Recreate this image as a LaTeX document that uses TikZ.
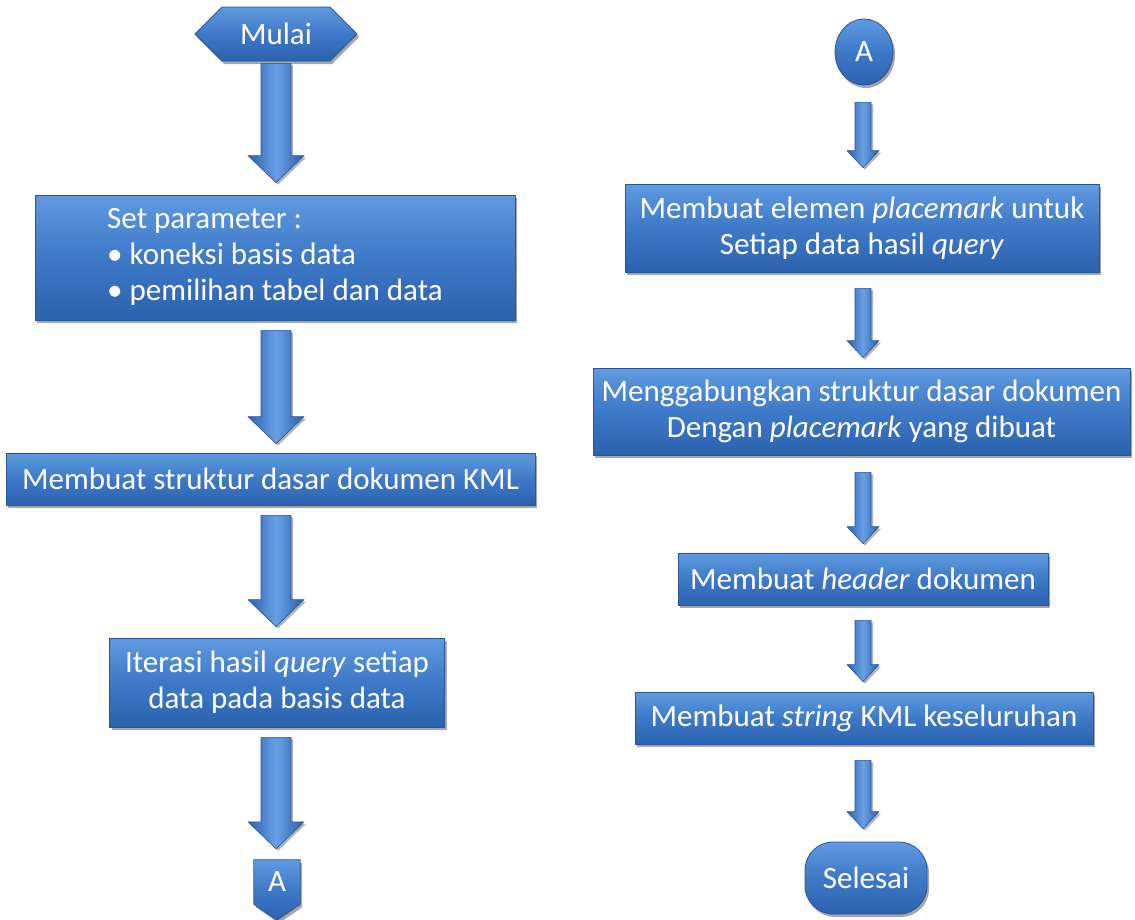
\documentclass[tikz,border=0pt]{standalone}
\usepackage{fontspec}
\setmainfont{Carlito}
\usetikzlibrary{shapes.symbols,shapes.geometric,shadows,calc}

\definecolor{bxtop}{RGB}{96,154,224}
\definecolor{bxmid}{RGB}{62,121,200}
\definecolor{bxbot}{RGB}{44,98,174}
\definecolor{bxline}{RGB}{40,86,152}
\definecolor{arL}{RGB}{46,98,178}
\definecolor{arM}{RGB}{104,160,228}
\definecolor{arR}{RGB}{44,94,170}

\pgfdeclarelayer{bg}
\pgfsetlayers{bg,main}

\tikzset{
  boxfill/.style={draw=bxline, line width=0.8pt, top color=bxtop, bottom color=bxbot,
    middle color=bxmid,
    drop shadow={shadow xshift=2pt, shadow yshift=-3pt, opacity=0.35, fill=black}},
  boxtext/.style={text=white, font=\fontsize{31}{36}\selectfont,
    inner sep=0pt, align=center},
  box/.style={boxfill, boxtext},
  arrowfill/.style={left color=arL, right color=arR, middle color=arM,
    draw=bxline, line width=0.6pt, line join=round,
    drop shadow={shadow xshift=2pt, shadow yshift=-2pt, opacity=0.3, fill=black}},
}

% #1 column coordinate, #2 from node, #3 to node, #4 top gap, #5 bottom gap,
% #6 shaft half width, #7 head half width, #8 head length
\newcommand\blkarrow[8]{%
  \path[arrowfill] let \p1=(#1 |- #2.south), \p2=(#1 |- #3.north) in
    (\x1-#6,\y1-#4) -- (\x1+#6,\y1-#4) -- (\x1+#6,\y2+#5+#8) -- (\x1+#7,\y2+#5+#8)
    -- (\x1,\y2+#5) -- (\x1-#7,\y2+#5+#8) -- (\x1-#6,\y2+#5+#8) -- cycle;}

\begin{document}
\begin{tikzpicture}[x=1pt,y=1pt]
\useasboundingbox (0,0) rectangle (1135,-919);
\coordinate (colL) at (276,0);
\coordinate (colR) at (863,0);

% left column
\node[box, signal, signal to=west and east, signal pointer angle=90,
      minimum width=162pt, minimum height=54pt] (mulai) at (276,-34) {Mulai};
\node[box, minimum width=480pt, minimum height=125pt] (set) at (275,-257.5)
  {\begin{tabular}{@{}l@{}}Set parameter :\\ • koneksi basis data\\ • pemilihan tabel dan data\end{tabular}};
\node[box, minimum width=529pt, minimum height=52pt] (kml) at (270.5,-479)
  {Membuat struktur dasar dokumen KML};
\node[box, minimum width=335pt, minimum height=89pt] (iter) at (277,-682.5)
  {Iterasi hasil \textit{query} setiap\\data pada basis data};
\node[boxtext, minimum width=46pt, minimum height=44pt] (offA) at (277,-882) {A};
\begin{pgfonlayer}{bg}
  \path[boxfill] (offA.north west) -- (offA.north east) -- (offA.south east)
    -- ($(offA.south)+(0,-16)$) -- (offA.south west) -- cycle;
\end{pgfonlayer}

% right column
\node[box, ellipse, minimum width=58pt, minimum height=66pt] (circA) at (864,-52) {A};
\node[box, minimum width=474pt, minimum height=88pt] (elem) at (862,-228)
  {Membuat elemen \textit{placemark} untuk\\Setiap data hasil \textit{query}};
\node[box, minimum width=537pt, minimum height=87pt] (gab) at (861.5,-411.5)
  {Menggabungkan struktur dasar dokumen\\Dengan \textit{placemark} yang dibuat};
\node[box, minimum width=370pt, minimum height=52pt] (head) at (863,-579)
  {Membuat \textit{header} dokumen};
\node[box, minimum width=458pt, minimum height=52pt] (str) at (864,-718)
  {Membuat \textit{string} KML keseluruhan};
\node[box, rounded corners=28pt, minimum width=122pt, minimum height=72pt] (sel) at (866,-878)
  {Selesai};

% connectors
\blkarrow{colL}{mulai}{set}{2pt}{12pt}{15pt}{28pt}{27pt}
\blkarrow{colL}{set}{kml}{10pt}{9pt}{15pt}{28pt}{27pt}
\blkarrow{colL}{kml}{iter}{10pt}{11pt}{15pt}{28pt}{27pt}
\blkarrow{colL}{iter}{offA}{10pt}{11pt}{15pt}{28pt}{27pt}

\blkarrow{colR}{circA}{elem}{17pt}{16pt}{8pt}{16pt}{17pt}
\blkarrow{colR}{elem}{gab}{16pt}{10pt}{8pt}{16pt}{17pt}
\blkarrow{colR}{gab}{head}{17pt}{9pt}{8pt}{16pt}{17pt}
\blkarrow{colR}{head}{str}{15pt}{10pt}{8pt}{16pt}{17pt}
\blkarrow{colR}{str}{sel}{16pt}{13pt}{8pt}{16pt}{17pt}
\end{tikzpicture}
\end{document}
